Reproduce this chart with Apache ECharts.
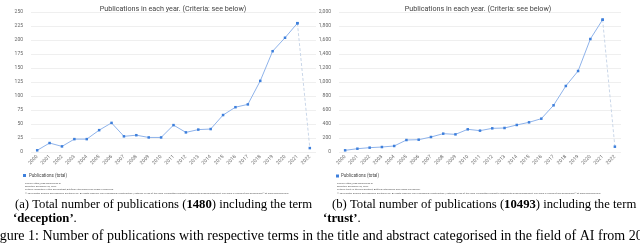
<!DOCTYPE html>
<html><head><meta charset="utf-8">
<script src="https://cdn.jsdelivr.net/npm/echarts@6/dist/echarts.min.js"></script>
<style>html,body{margin:0;padding:0;background:#fff}#c{width:640px;height:251px}</style>
</head><body><div id="c"></div>
<script>
const years = ['2000','2001','2002','2003','2004','2005','2006','2007','2008','2009','2010','2011','2012','2013','2014','2015','2016','2017','2018','2019','2020','2021','2022'];
const deception = [3,16,10,23,23,39,52,28,30,26,26,48,35,40,41,66,80,85,127,180,204,230,7];
const trust = [24,47,62,71,86,171,176,214,262,252,324,305,338,343,386,424,476,667,943,1157,1614,1890,76];
const titleText = 'Publications in each year. (Criteria: see below)';
const legendName = 'Publications (total)';

const chart = echarts.init(document.getElementById('c'), null, {renderer:'canvas'});
const lineColor = '#8fb3ea', markColor = '#3d7fdc';
function split(vals){
  const n = vals.length;
  const full = vals.map((v,i)=> i < n-1 ? v : null);
  const tail = vals.map((v,i)=> i >= n-2 ? v : null);
  return [full, tail];
}
const [dFull, dTail] = split(deception);
const [tFull, tTail] = split(trust);
function xAx(gi){return {type:'category', gridIndex:gi, data:years, boundaryGap:true,
  axisLine:{show:false}, axisTick:{show:false},
  axisLabel:{rotate:45, fontSize:5, color:'#666', margin:4, fontFamily:'Roboto', interval:0}};}
function yAx(gi,max,intv){return {type:'value', gridIndex:gi, min:0, max:max, interval:intv,
  axisLine:{show:false}, axisTick:{show:false},
  splitLine:{lineStyle:{color:'#efefef', width:1}},
  axisLabel:{fontSize:5, color:'#666', margin:8, fontFamily:'Roboto',
    formatter: v => v.toLocaleString('en-US')}};}
function mainS(gi,data){return {name:legendName, type:'line', xAxisIndex:gi, yAxisIndex:gi, data:data,
  symbol:'rect', symbolSize:2.5, itemStyle:{color:markColor}, lineStyle:{color:lineColor, width:1},
  connectNulls:false, silent:true, animation:false};}
function tailS(gi,data){return {name:'incomplete', type:'line', xAxisIndex:gi, yAxisIndex:gi, data:data,
  symbol:'rect', symbolSize:2.5, itemStyle:{color:markColor}, lineStyle:{color:'#c9d6e8', width:1, type:[3,2]},
  silent:true, animation:false};}

const foot = {
  a: ['Source: https://app.dimensions.ai','Exported: December 20, 2022',
      "Criteria: 'deception' in title and abstract; Artificial Intelligence and Image Processing.",
      '© 2022 Digital Science and Research Solutions Inc. All rights reserved. Non-commercial redistribution / external re-use of this work is permitted subject to appropriate acknowledgement. This work is sourced from Dimensions® at www.dimensions.ai.'],
  b: ['Source: https://app.dimensions.ai','Exported: December 20, 2022',
      "Criteria: 'trust' in title and abstract; Artificial Intelligence and Image Processing.",
      '© 2022 Digital Science and Research Solutions Inc. All rights reserved. Non-commercial redistribution / external re-use of this work is permitted subject to appropriate acknowledgement. This work is sourced from Dimensions® at www.dimensions.ai.']
};
const footY = [182, 185, 188, 192];
const graphics = [];
[['a',25],['b',337]].forEach(([k,x])=>{
  foot[k].forEach((t,i)=>graphics.push({type:'text', left:x, top:footY[i],
    style:{text:t, fontSize:2.4, fill:'#555', fontFamily:'Roboto'}}));
});
const serif = 'Liberation Serif';
const cap = 12.7;
const rich = {b:{fontWeight:'bold', fontSize:cap, fontFamily:serif}};
graphics.push({type:'text', left:15, top:198, style:{text:'(a) Total number of publications ({b|1480}) including the term',
  fontSize:cap, fontFamily:serif, fill:'#000', rich:rich}});
graphics.push({type:'text', left:13, top:212, style:{text:'{b|‘deception’}.',
  fontSize:cap, fontFamily:serif, fill:'#000', rich:rich}});
graphics.push({type:'text', left:332, top:198, style:{text:'(b) Total number of publications ({b|10493}) including the term',
  fontSize:cap, fontFamily:serif, fill:'#000', rich:rich}});
graphics.push({type:'text', left:323, top:212, style:{text:'{b|‘trust’}.',
  fontSize:cap, fontFamily:serif, fill:'#000', rich:rich}});
graphics.push({type:'text', left:-12, top:229, style:{text:'Figure 1: Number of publications with respective terms in the title and abstract categorised in the field of AI from 2000 to 2022.',
  fontSize:14, fontFamily:serif, fill:'#000'}});
graphics.push({type:'rect', left:336, top:174.5, shape:{width:3, height:3}, style:{fill:markColor}});
graphics.push({type:'text', left:341, top:173.5, style:{text:legendName, fontSize:4.5, fill:'#444', fontFamily:'Roboto'}});

chart.setOption({
  animation:false,
  title:[
    {text:titleText, left:168, top:1, textAlign:'center', textStyle:{fontSize:7.2, fontWeight:'normal', color:'#444', fontFamily:'Roboto'}},
    {text:titleText, left:473, top:1, textAlign:'center', textStyle:{fontSize:7.2, fontWeight:'normal', color:'#444', fontFamily:'Roboto'}}
  ],
  legend:[
    {data:[{name:legendName, icon:'rect'}], left:23, top:173, itemWidth:3, itemHeight:3, itemGap:2,
     textStyle:{fontSize:4.5, color:'#444', fontFamily:'Roboto', padding:[0,0,0,-2]}, selectedMode:false, padding:0},
  ],
  grid:[
    {left:31, top:12, width:285, height:140},
    {left:339, top:12, width:282, height:140}
  ],
  xAxis:[xAx(0), xAx(1)],
  yAxis:[yAx(0,250,25), yAx(1,2000,200)],
  series:[mainS(0,dFull), tailS(0,dTail), mainS(1,tFull), tailS(1,tTail)],
  graphic:graphics
});
</script></body></html>
